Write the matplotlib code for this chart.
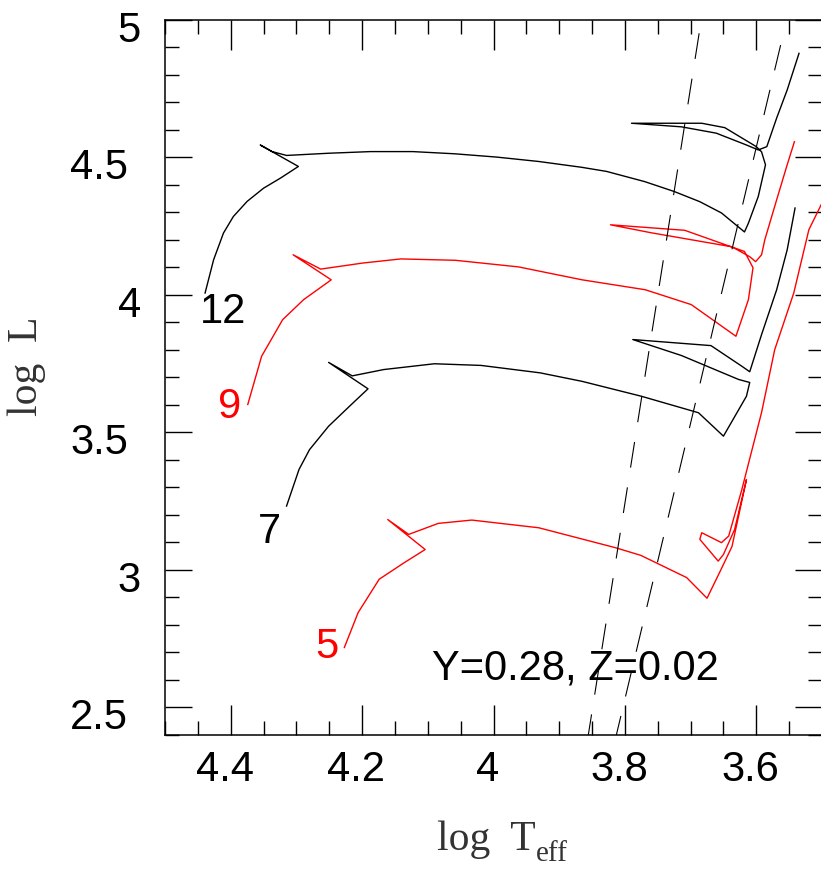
import matplotlib
matplotlib.use('Agg')
import matplotlib.pyplot as plt
from matplotlib.ticker import MultipleLocator
from matplotlib.transforms import ScaledTranslation

plt.rcParams['font.family'] = ['Liberation Sans', 'DejaVu Sans']
plt.rcParams['lines.scale_dashes'] = False

# evolutionary tracks in the HR diagram: log Teff, log L
m12_logt = [4.439, 4.426, 4.411, 4.396, 4.375, 4.350, 4.324, 4.297, 4.355, 4.337,
            4.315, 4.251, 4.187, 4.123, 4.059, 3.995, 3.931, 3.866, 3.828, 3.770,
            3.725, 3.686, 3.653, 3.618, 3.612, 3.597, 3.586, 3.592, 3.600, 3.648,
            3.683, 3.790, 3.714, 3.661, 3.615, 3.597, 3.584, 3.569, 3.553, 3.535]
m12_logl = [4.006, 4.127, 4.224, 4.284, 4.339, 4.387, 4.424, 4.466, 4.544, 4.520,
            4.506, 4.514, 4.520, 4.520, 4.512, 4.500, 4.484, 4.463, 4.448, 4.411,
            4.375, 4.338, 4.297, 4.228, 4.260, 4.357, 4.472, 4.519, 4.538, 4.607,
            4.623, 4.623, 4.610, 4.587, 4.544, 4.526, 4.538, 4.642, 4.744, 4.877]

m9_logt = [4.374, 4.353, 4.321, 4.289, 4.247, 4.305, 4.263, 4.199, 4.141, 4.058,
           3.962, 3.865, 3.769, 3.699, 3.631, 3.612, 3.605, 3.618, 3.709, 3.822,
           3.760, 3.637, 3.610, 3.601, 3.592, 3.587, 3.569, 3.553, 3.542]
m9_logl = [3.601, 3.776, 3.909, 3.982, 4.054, 4.145, 4.093, 4.115, 4.130, 4.125,
           4.101, 4.054, 4.018, 3.964, 3.849, 3.982, 4.098, 4.157, 4.234, 4.254,
           4.225, 4.174, 4.138, 4.120, 4.145, 4.200, 4.345, 4.472, 4.556]

m7_logt = [4.315, 4.296, 4.280, 4.251, 4.219, 4.191, 4.251, 4.215, 4.167, 4.090,
           4.019, 3.929, 3.865, 3.775, 3.688, 3.650, 3.615, 3.610, 3.627, 3.714,
           3.788, 3.669, 3.622, 3.610, 3.592, 3.569, 3.553, 3.541]
m7_logl = [3.232, 3.365, 3.437, 3.522, 3.595, 3.658, 3.754, 3.705, 3.728, 3.749,
           3.743, 3.716, 3.685, 3.631, 3.571, 3.486, 3.631, 3.681, 3.692, 3.779,
           3.837, 3.815, 3.740, 3.720, 3.855, 4.018, 4.163, 4.315]

m5_logt = [4.227, 4.206, 4.174, 4.136, 4.104, 4.161, 4.129, 4.084, 4.033, 3.931,
           3.815, 3.776, 3.706, 3.675, 3.655, 3.637, 3.615, 3.633, 3.650, 3.658,
           3.686, 3.683, 3.653, 3.642, 3.622, 3.592, 3.572, 3.543, 3.520, 3.500,
           3.479]
m5_logl = [2.718, 2.845, 2.966, 3.026, 3.074, 3.183, 3.129, 3.169, 3.181, 3.153,
           3.081, 3.053, 2.972, 2.897, 2.995, 3.085, 3.328, 3.147, 3.056, 3.032,
           3.111, 3.135, 3.099, 3.123, 3.292, 3.572, 3.800, 4.006, 4.236, 4.333,
           4.399]

# instability strip edges
strip_blue_logt = [3.687, 3.859]
strip_blue_logl = [4.95, 2.35]
strip_red_logt = [3.563, 3.818]
strip_red_logl = [4.907, 2.35]

xtick_vals = [4.4, 4.2, 4.0, 3.8, 3.6]
xtick_labels = ['4.4', '4.2', '4', '3.8', '3.6']
ytick_vals = [2.5, 3.0, 3.5, 4.0, 4.5, 5.0]
ytick_labels = ['2.5', '3', '3.5', '4', '4.5', '5']

fig = plt.figure(figsize=(8.21, 8.69), dpi=100)
ax = fig.add_axes([165 / 821, 134 / 869, 657 / 821, 715.5 / 869])

ax.plot(m12_logt, m12_logl, color='black', lw=1.0)
ax.plot(m9_logt, m9_logl, color='red', lw=1.0)
ax.plot(m7_logt, m7_logl, color='black', lw=1.0)
ax.plot(m5_logt, m5_logl, color='red', lw=1.0)

for xs, ys in [(strip_blue_logt, strip_blue_logl), (strip_red_logt, strip_red_logl)]:
    ax.plot(xs, ys, color='black', lw=0.8, dashes=(18.7, 14.4))

ax.set_xlim(4.5, 3.5)
ax.set_ylim(2.4, 5.0)

ax.set_xticks(xtick_vals)
ax.set_xticklabels(xtick_labels)
ax.xaxis.set_minor_locator(MultipleLocator(0.05))
ax.set_yticks(ytick_vals)
ax.yaxis.set_minor_locator(MultipleLocator(0.1))

ax.tick_params(which='both', direction='in', top=True, right=True, width=1.0)
ax.tick_params(axis='x', which='major', length=21.5, labelsize=30, pad=11)
ax.tick_params(axis='y', which='major', length=19.3, labelleft=False)
ax.tick_params(which='minor', length=10)
for s in ax.spines.values():
    s.set_linewidth(1.1)

# x labels sit a little left of their ticks
shift = ScaledTranslation(-6 / 100, 0, fig.dpi_scale_trans)
for lbl in ax.get_xticklabels():
    lbl.set_transform(lbl.get_transform() + shift)

# y tick labels: decimals and integers sit at different distances from the frame
for v, lab in zip(ytick_vals, ytick_labels):
    dx = 37 if '.' in lab else 24
    ax.annotate(lab, xy=(0, v), xycoords=('axes fraction', 'data'),
                xytext=(-dx, -22), textcoords='offset pixels',
                ha='right', va='baseline', fontsize=30, annotation_clip=False)

# mass labels
ax.text(4.4115, 3.898, '12', color='black', fontsize=30, ha='center', va='baseline')
ax.text(4.4015, 3.553, '9', color='red', fontsize=30, ha='center', va='baseline')
ax.text(4.341, 3.0995, '7', color='black', fontsize=30, ha='center', va='baseline')
ax.text(4.2534, 2.681, '5', color='red', fontsize=30, ha='center', va='baseline')
ax.text(3.8756, 2.6025, 'Y=0.28, Z=0.02', color='black', fontsize=30,
        ha='center', va='baseline')

# axis titles in a serif face, subscript set by hand
fig.text(437 / 821, 1 - 850 / 869, 'log  T', family='Liberation Serif',
         fontsize=30, color='#333333', ha='left', va='baseline')
fig.text(536 / 821, 1 - 861 / 869, 'eff', family='Liberation Serif',
         fontsize=21, color='#333333', ha='left', va='baseline')
fig.text(27 / 821, 1 - 366 / 869, 'log  L', family='Liberation Serif', rotation=90,
         fontsize=30, color='#333333', ha='center', va='center')

fig.savefig('out.png', dpi=100)
